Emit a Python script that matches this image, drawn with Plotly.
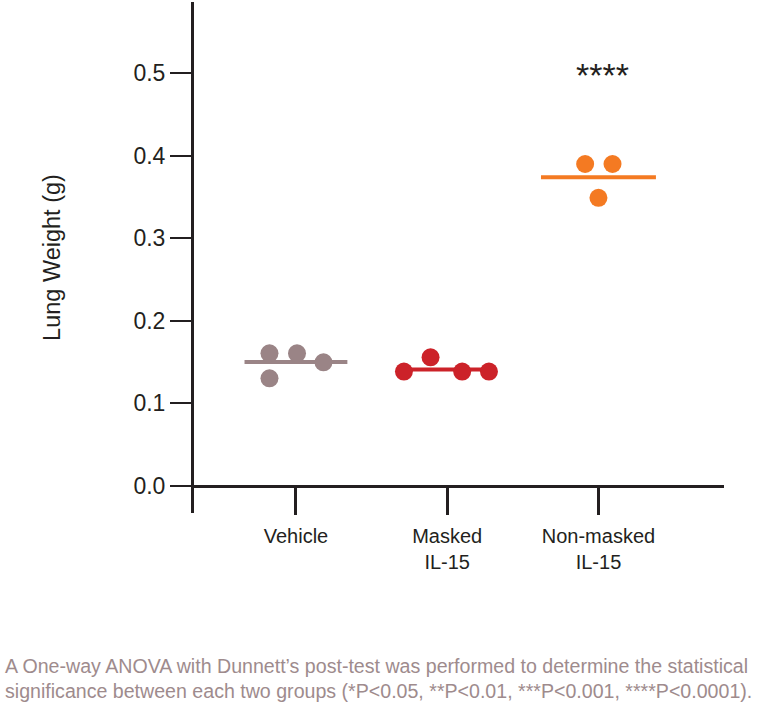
import plotly.graph_objects as go

# ---- data ----
categories = ["Vehicle", "Masked<br>IL-15", "Non-masked<br>IL-15"]
vehicle = [0.1605, 0.1605, 0.1496, 0.1302]
masked = [0.1384, 0.1557, 0.1384, 0.1384]
nonmasked = [0.390, 0.390, 0.349]
group_means = [0.150, 0.141, 0.374]
y_ticks = [0.0, 0.1, 0.2, 0.3, 0.4, 0.5]
y_tick_text = ["0.0", "0.1", "0.2", "0.3", "0.4", "0.5"]
significance = ["", "", "****"]

# ---- styling / layout ----
colors = ["#9a8486", "#cc2229", "#f47a22"]
jitter = [
    [-0.175, 0.007, 0.182, -0.175],
    [-0.286, -0.11, 0.099, 0.276],
    [-0.088, 0.093, 0.0],
]
half_width = [0.34, 0.28, 0.38]
series = [vehicle, masked, nonmasked]
axis_color = "#231f20"
font_family = "Liberation Sans, Arial, Helvetica, sans-serif"

fig = go.Figure()

# mean lines
for i, m in enumerate(group_means):
    fig.add_trace(go.Scatter(
        x=[i - half_width[i], i + half_width[i]], y=[m, m],
        mode="lines", line=dict(color=colors[i], width=4),
        showlegend=False, hoverinfo="skip"))

# points
for i, vals in enumerate(series):
    fig.add_trace(go.Scatter(
        x=[i + j for j in jitter[i]], y=vals,
        mode="markers",
        marker=dict(color=colors[i], size=18, line=dict(width=0)),
        showlegend=False))

y_lo, y_hi = -0.0331, 0.5864

for i, s in enumerate(significance):
    if s:
        fig.add_annotation(x=i, y=0.498, xref="x", yref="y", text=s,
                           showarrow=False, xshift=4,
                           font=dict(size=34, color=axis_color, family=font_family))

fig.add_annotation(
    xref="paper", yref="paper", x=-0.361, y=-0.274, xanchor="left", yanchor="top",
    align="left", showarrow=False,
    text=("A One-way ANOVA with Dunnett\u2019s post-test was performed to determine the statistical<br>"
          "significance between each two groups (*P&lt;0.05, **P&lt;0.01, ***P&lt;0.001, ****P&lt;0.0001)."),
    font=dict(size=19.6, color="#9e8b8d", family=font_family))

fig.update_layout(
    width=766, height=706,
    margin=dict(l=194, r=42, t=2, b=193),
    plot_bgcolor="white", paper_bgcolor="white",
    font=dict(family=font_family, color=axis_color),
    xaxis=dict(
        range=[-0.674, 2.83],
        tickmode="array", tickvals=[0, 1, 2], ticktext=categories,
        showgrid=False, zeroline=False,
        showline=True, linecolor=axis_color, linewidth=3,
        ticks="outside", ticklen=27, tickwidth=3, tickcolor=axis_color,
        anchor="free", position=(0 - y_lo) / (y_hi - y_lo),
        tickfont=dict(size=20, color=axis_color),
        ticklabelstandoff=4,
    ),
    yaxis=dict(
        range=[y_lo, y_hi],
        tickmode="array", tickvals=y_ticks, ticktext=y_tick_text,
        showgrid=False, zeroline=False,
        showline=True, linecolor=axis_color, linewidth=3,
        ticks="outside", ticklen=21, tickwidth=2, tickcolor=axis_color,
        tickfont=dict(size=23, color=axis_color),
        title=dict(text="Lung Weight (g)", font=dict(size=23.5, color=axis_color), standoff=67),
    ),
)

fig.write_html("out.html", config={"displayModeBar": False},
               post_script="document.body.style.margin='0';")
